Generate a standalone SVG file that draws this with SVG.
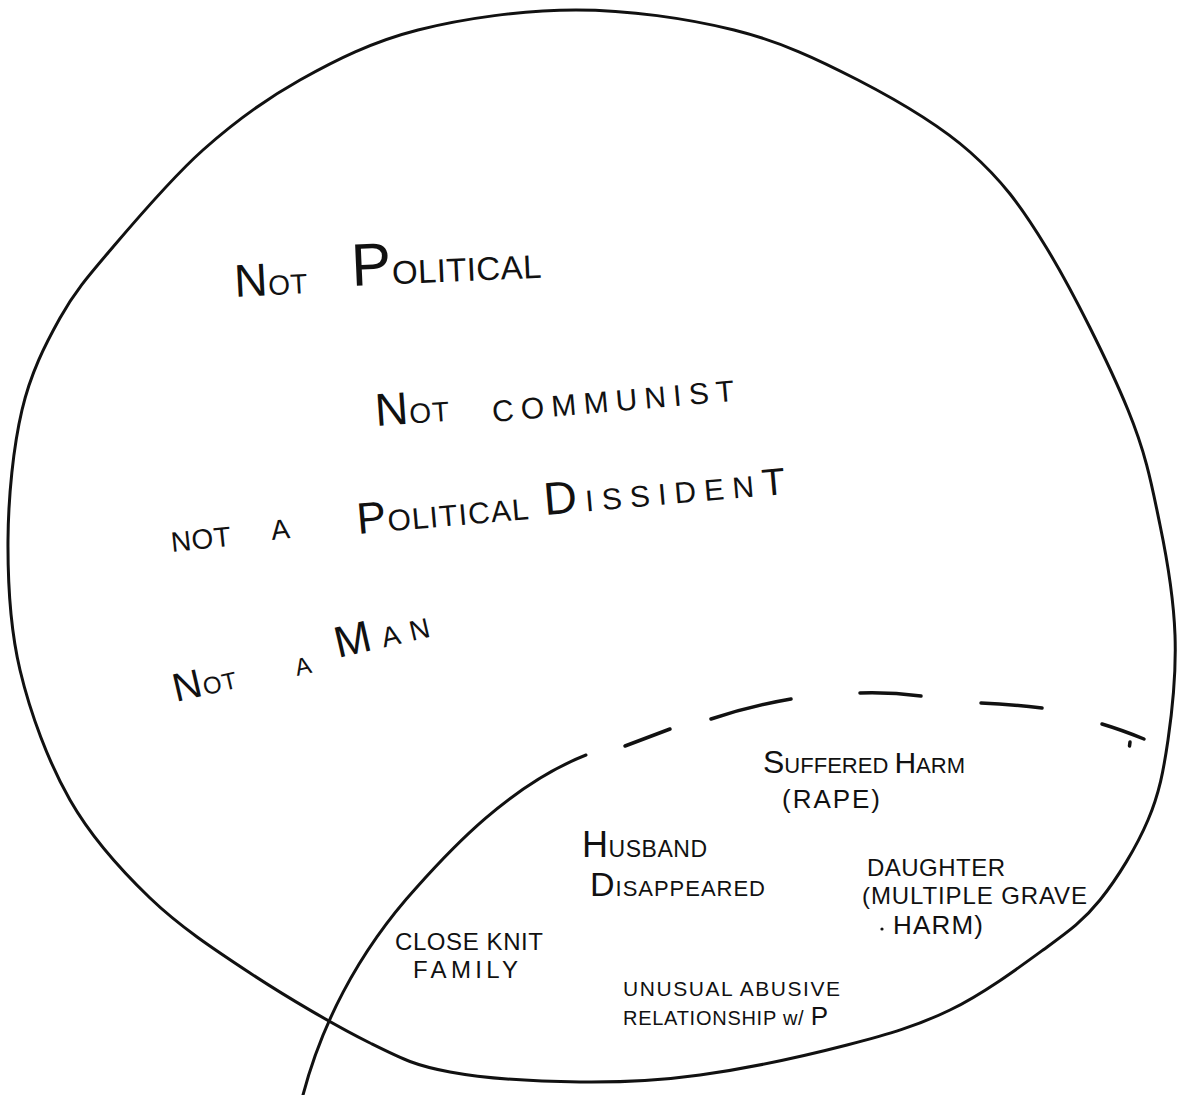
<svg xmlns="http://www.w3.org/2000/svg" width="1180" height="1095" viewBox="0 0 1180 1095">
<style>
.t{font-family:"Liberation Sans","DejaVu Sans",Arial,sans-serif;fill:#111;}
.ln{fill:none;stroke:#111;stroke-width:3;stroke-linecap:round;stroke-linejoin:round;}
.ds{fill:none;stroke:#111;stroke-width:3.5;stroke-linecap:round;}
</style>
<rect width="1180" height="1095" fill="#fff"/>
<g id="shapes">
<path id="outer-boundary" class="ln" d="M576,10 C628.7,10 687,18.3 734,30 C781,41.7 818.7,59.7 858,80 C897.3,100.3 938.7,124.2 970,152 C1001.3,179.8 1019.7,204 1046,247 C1072.3,290 1109,363.7 1128,410 C1147,456.3 1152.2,487.5 1160,525 C1167.8,562.5 1173.7,599.2 1175,635 C1176.3,670.8 1172.5,709.2 1168,740 C1163.5,770.8 1159.3,793.3 1148,820 C1136.7,846.7 1117.5,878.3 1100,900 C1082.5,921.7 1068,931.7 1043,950 C1018,968.3 982.7,994.2 950,1010 C917.3,1025.8 888.7,1034.2 847,1045 C805.3,1055.8 744.5,1068.8 700,1075 C655.5,1081.2 621.7,1082.5 580,1082 C538.3,1081.5 485,1078.5 450,1072 C415,1065.5 403.3,1059.5 370,1043 C336.7,1026.5 286.7,997.2 250,973 C213.3,948.8 180,926.8 150,898 C120,869.2 91.7,838 70,800 C48.3,762 30.3,713.3 20,670 C9.7,626.7 7.7,583.3 8,540 C8.3,496.7 13.3,447 22,410 C30.7,373 44.8,345.2 60,318 C75.2,290.8 89.2,275 113,247 C136.8,219 171.8,177.8 203,150 C234.2,122.2 264.2,100 300,80 C335.8,60 372,41.7 418,30 C464,18.3 523.3,10 576,10 Z"/>
<path id="inner-boundary" class="ln" d="M303,1095 C320,1030 355,955 417,887 C450,850 510,785 586,755"/>
<g id="dashed-boundary" class="ds">
<path d="M625,746 L670,729"/>
<path d="M711,719 Q750,706 791,699"/>
<path d="M860,693 Q890,692 921,696"/>
<path d="M981,703 Q1010,704 1042,708"/>
<path d="M1102,724 Q1122,730 1144,739"/>
<path d="M1130,742 L1129.5,746"/>
</g>
<circle cx="882" cy="929" r="1.6" fill="#111"/>
</g>
<g id="not-political">
<text class="t" x="235" y="297" transform="rotate(-3 235 297)" textLength="73" lengthAdjust="spacing"><tspan font-size="46">N</tspan><tspan font-size="28">OT</tspan></text>
<text class="t" x="352" y="286" transform="rotate(-2.5 352 286)" textLength="190" lengthAdjust="spacing"><tspan font-size="60">P</tspan><tspan font-size="33">OLITICAL</tspan></text>
</g>
<g id="not-communist">
<text class="t" x="376" y="426" transform="rotate(-4 376 426)" textLength="74" lengthAdjust="spacing"><tspan font-size="46">N</tspan><tspan font-size="28">OT</tspan></text>
<text class="t" x="493" y="422" transform="rotate(-5 493 422)" textLength="243" lengthAdjust="spacing" font-size="30">COMMUNIST</text>
</g>
<g id="not-a-political-dissident">
<text class="t" x="172" y="552" transform="rotate(-6 172 552)" textLength="60" lengthAdjust="spacing" font-size="28">NOT</text>
<text class="t" x="272" y="540" transform="rotate(-6 272 540)" font-size="28">A</text>
<text class="t" x="358" y="534" transform="rotate(-5 358 534)" textLength="172" lengthAdjust="spacing"><tspan font-size="44">P</tspan><tspan font-size="30">OLITICAL</tspan></text>
<text class="t" x="545" y="515" transform="rotate(-5 545 515)" textLength="242" lengthAdjust="spacing"><tspan font-size="46">D</tspan><tspan font-size="30">ISSIDEN</tspan><tspan font-size="38">T</tspan></text>
</g>
<g id="not-a-man">
<text class="t" x="176" y="702" transform="rotate(-13 176 702)" textLength="64" lengthAdjust="spacing"><tspan font-size="40">N</tspan><tspan font-size="24">OT</tspan></text>
<text class="t" x="297" y="676" transform="rotate(-13 297 676)" font-size="24">A</text>
<text class="t" x="338" y="658" transform="rotate(-13 338 658)" textLength="96" lengthAdjust="spacing"><tspan font-size="44">M</tspan><tspan font-size="28">AN</tspan></text>
</g>
<g id="suffered-harm">
<text class="t" x="763" y="773" textLength="202" lengthAdjust="spacing"><tspan font-size="32">S</tspan><tspan font-size="22">UFFERED </tspan><tspan font-size="30">H</tspan><tspan font-size="22">ARM</tspan></text>
<text class="t" x="782" y="808" textLength="98" lengthAdjust="spacing" font-size="26">(RAPE)</text>
</g>
<g id="husband-disappeared">
<text class="t" x="582" y="857" textLength="125" lengthAdjust="spacing"><tspan font-size="36">H</tspan><tspan font-size="23">USBAND</tspan></text>
<text class="t" x="590" y="896" textLength="175" lengthAdjust="spacing"><tspan font-size="34">D</tspan><tspan font-size="22">ISAPPEARED</tspan></text>
</g>
<g id="daughter">
<text class="t" x="867" y="876" textLength="138" lengthAdjust="spacing" font-size="24">DAUGHTER</text>
<text class="t" x="862" y="904" textLength="225" lengthAdjust="spacing" font-size="24">(MULTIPLE GRAVE</text>
<text class="t" x="893" y="934" textLength="90" lengthAdjust="spacing" font-size="26">HARM)</text>
</g>
<g id="close-knit-family">
<text class="t" x="395" y="950" textLength="148" lengthAdjust="spacing" font-size="24">CLOSE KNIT</text>
<text class="t" x="413" y="978" textLength="105" lengthAdjust="spacing" font-size="24">FAMILY</text>
</g>
<g id="unusual-abusive-relationship">
<text class="t" x="623" y="996" textLength="217" lengthAdjust="spacing" font-size="21">UNUSUAL ABUSIVE</text>
<text class="t" x="623" y="1025" textLength="205" lengthAdjust="spacing"><tspan font-size="20">RELATIONSHIP w/ </tspan><tspan font-size="26">P</tspan></text>
</g>
</svg>
